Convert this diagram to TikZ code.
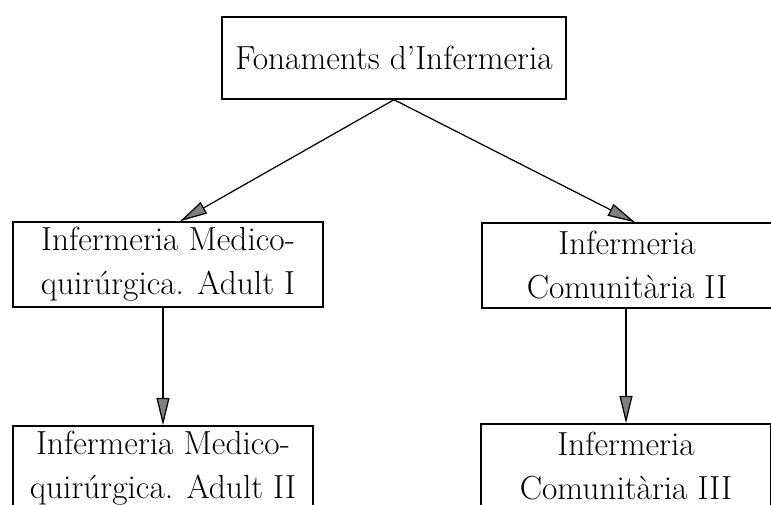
\documentclass[tikz,border=0pt]{standalone}
\usepackage{tikz}
\usetikzlibrary{arrows.meta, positioning, calc}

\begin{document}
\begin{tikzpicture}[
    x=0.02cm, y=-0.02cm,
    course/.style={draw, line width=0.8pt, align=center, inner sep=0pt, font=\fontsize{19}{25}\selectfont},
    link/.style={-{Triangle[length=5.5mm, width=2.6mm, fill=gray]}, line width=0.7pt}
]
    \useasboundingbox (0,0) rectangle (771,504);
    \clip (0,0) rectangle (771,504);

    % Top
    \node[course, minimum width=344*0.02cm, minimum height=82*0.02cm] (fonaments) at (394, 58) {Fonaments d'Infermeria};

    % Second row
    \node[course, minimum width=310*0.02cm, minimum height=85*0.02cm] (adultI) at (168, 264.5) {Infermeria Medico-\\quirúrgica. Adult I};
    \node[course, minimum width=290*0.02cm, minimum height=85*0.02cm] (comunII) at (627, 265.5) {Infermeria\\Comunitària II};

    % Third row
    \node[course, minimum width=300*0.02cm, minimum height=85*0.02cm] (adultII) at (163, 468.5) {Infermeria Medico-\\quirúrgica. Adult II};
    \node[course, minimum width=290*0.02cm, minimum height=85*0.02cm] (comunIII) at (626, 466.5) {Infermeria\\Comunitària III};

    % Connections
    \draw[link] (fonaments.south) -- ($(adultI.north)+(12,0)$);
    \draw[link] (fonaments.south) -- ($(comunII.north)+(8,0)$);
    \draw[link] (adultI.south -| adultII.north) -- (adultII.north);
    \draw[link] (comunII.south -| comunIII.north) -- (comunIII.north);
\end{tikzpicture}
\end{document}
